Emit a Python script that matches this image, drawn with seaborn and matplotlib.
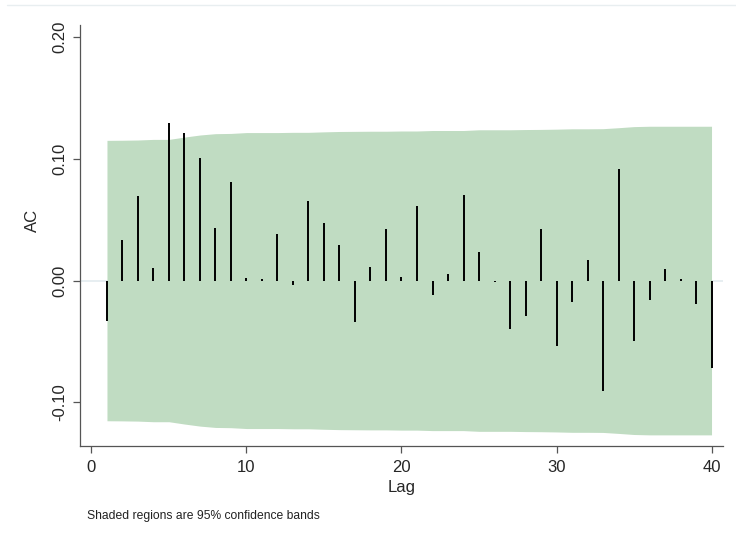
import numpy as np
import pandas as pd
import matplotlib
matplotlib.use("Agg")
import matplotlib.pyplot as plt
import seaborn as sns
from matplotlib.lines import Line2D

lags = list(range(1, 41))
ac = [-0.033, 0.033, 0.0694, 0.0103, 0.1294, 0.1215, 0.1007, 0.0431, 0.081, 0.0023,
      0.001, 0.0382, -0.004, 0.0656, 0.047, 0.0294, -0.0344, 0.0108, 0.0426, 0.0031,
      0.0615, -0.0116, 0.0056, 0.0703, 0.0234, -0.001, -0.040, -0.029, 0.042, -0.054,
      -0.0174, 0.0166, -0.0908, 0.0914, -0.0497, -0.0158, 0.0092, 0.001, -0.0196, -0.0716]
band = [0.1152, 0.1153, 0.1155, 0.1160, 0.1160, 0.1179, 0.1196, 0.1207, 0.1209, 0.1216,
        0.1216, 0.1216, 0.1218, 0.1218, 0.1222, 0.1225, 0.1226, 0.1227, 0.1227, 0.1229,
        0.1229, 0.1233, 0.1233, 0.1233, 0.1239, 0.1239, 0.1239, 0.1241, 0.1242, 0.1244,
        0.1247, 0.1247, 0.1248, 0.1256, 0.1265, 0.1268, 0.1268, 0.1268, 0.1268, 0.1268]
xticks = [0, 10, 20, 30, 40]
yticks = [-0.10, 0.00, 0.10, 0.20]

df = pd.DataFrame({"lag": lags, "ac": ac, "band": band})

sns.set_theme(style="white")
plt.rcParams["font.family"] = ["Liberation Sans", "DejaVu Sans"]

fig = plt.figure(figsize=(7.36, 5.38), dpi=100)
ax = fig.add_axes([80/736, 1 - 445.7/538, 643/736, 420.7/538])

# zero reference line
ax.axhline(0, color="#e3ebef", lw=1.2, zorder=0)
# confidence band
ax.fill_between(df["lag"], -df["band"], df["band"], color="#c0dcc2", lw=0, zorder=1)
# spikes
ax.vlines(df["lag"], 0, df["ac"], color="black", lw=1.4, zorder=3)

ax.set_xlim(-0.74, 40.74)
ax.set_ylim(-0.1357, 0.210)
ax.set_xticks(xticks)
ax.set_yticks(yticks)
ax.set_xticklabels([str(t) for t in xticks], fontsize=12)
ax.set_yticklabels([f"{t:.2f}" for t in yticks], fontsize=12, rotation=90, va="center")
ax.tick_params(axis="both", direction="out", length=5, width=0.9, color="#555555",
               left=True, bottom=True)
ax.tick_params(axis="x", pad=5)
ax.tick_params(axis="y", pad=4)
sns.despine(ax=ax)
for s in ["left", "bottom"]:
    ax.spines[s].set_color("#555555")
    ax.spines[s].set_linewidth(0.9)

ax.set_xlabel("Lag", fontsize=12, labelpad=4)
ax.set_ylabel("AC", fontsize=12)
ax.yaxis.set_label_coords(-0.062, 0.536)

fig.text(87/736, 1 - 516/538, "Shaded regions are 95% confidence bands", fontsize=8.7,
         va="center", ha="left", color="#222222")

fig.add_artist(Line2D([7/736, 1.0], [1 - 5/538, 1 - 5/538], color="#e8eef0", lw=1))

fig.savefig("out.png", dpi=100, facecolor="white")
